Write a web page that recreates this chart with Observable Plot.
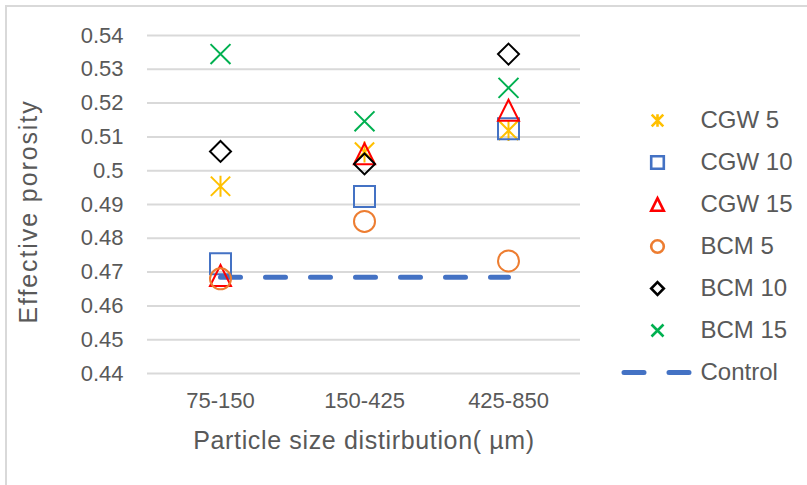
<!DOCTYPE html>
<html>
<head>
<meta charset="utf-8">
<script src="https://cdn.jsdelivr.net/npm/d3@7"></script>
<script src="https://cdn.jsdelivr.net/npm/@observablehq/plot@0.6"></script>
<style>
  html, body { margin: 0; padding: 0; background: #fff; overflow: hidden; width: 807px; height: 485px; }
  #frame { position: absolute; left: 5px; top: 5px; width: 830px; height: 520px; border: 2px solid #d9d9d9; box-sizing: border-box; }
  #chart { position: absolute; left: 0; top: 0; }
  #legend { position: absolute; left: 600px; top: 95px; }
</style>
</head>
<body>
<div id="frame"></div>
<div id="chart"></div>
<div id="legend"></div>
<script>
// ---- data ----
const categories = ["75-150", "150-425", "425-850"];
const seriesNames = ["CGW 5", "CGW 10", "CGW 15", "BCM 5", "BCM 10", "BCM 15"];
const cgw5  = [0.4954, 0.5055, 0.5119];
const cgw10 = [0.4725, 0.4924, 0.5124];
const cgw15 = [0.4690, 0.5050, 0.5179];
const bcm5  = [0.4680, 0.4850, 0.4733];
const bcm10 = [0.5057, 0.5020, 0.5345];
const bcm15 = [0.5345, 0.5146, 0.5245];
const control = [0.4685, 0.4685, 0.4685];
const yTicks = [0.44, 0.45, 0.46, 0.47, 0.48, 0.49, 0.50, 0.51, 0.52, 0.53, 0.54];
const yTickLabels = ["0.44", "0.45", "0.46", "0.47", "0.48", "0.49", "0.5", "0.51", "0.52", "0.53", "0.54"];
const xTitle = "Particle size distirbution( \u00b5m)";
const yTitle = "Effective porosity";
const controlName = "Control";

// ---- styles ----
const colors = ["#FFC000", "#4472C4", "#FF0000", "#ED7D31", "#000000", "#00B050"];
const controlColor = "#4472C4";
const textColor = "#595959";
const fontFamily = "'Liberation Sans', Arial, sans-serif";

// custom Excel-like marker shapes (r = half extent)
const mk = (fn) => ({ draw(ctx, size) { fn(ctx, Math.sqrt(size / Math.PI)); } });
const symAsterisk = mk((c, r) => { const a = r * 0.92; c.moveTo(0, -r); c.lineTo(0, r); c.moveTo(-a, -a); c.lineTo(a, a); c.moveTo(-a, a); c.lineTo(a, -a); });
const symSquare = mk((c, r) => { c.moveTo(-r, -r); c.lineTo(r, -r); c.lineTo(r, r); c.lineTo(-r, r); c.closePath(); });
const symTriangle = mk((c, r) => { c.moveTo(0, -r); c.lineTo(r, r); c.lineTo(-r, r); c.closePath(); });
const symCircle = mk((c, r) => { c.moveTo(r, 0); c.arc(0, 0, r, 0, 2 * Math.PI); c.closePath(); });
const symDiamond = mk((c, r) => { c.moveTo(0, -r); c.lineTo(r, 0); c.lineTo(0, r); c.lineTo(-r, 0); c.closePath(); });
const symX = mk((c, r) => { const a = r * 0.95; c.moveTo(-a, -a); c.lineTo(a, a); c.moveTo(-a, a); c.lineTo(a, -a); });
const symbols = [symAsterisk, symSquare, symTriangle, symCircle, symDiamond, symX];

const seriesValues = [cgw5, cgw10, cgw15, bcm5, bcm10, bcm15];
const rows = (vals) => categories.map((c, i) => ({ cat: c, v: vals[i] }));

const dotMarks = seriesValues.map((vals, s) =>
  Plot.dot(rows(vals), {
    x: "cat", y: "v", symbol: symbols[s], r: 10.5,
    stroke: colors[s], strokeWidth: 2, fill: "none", strokeLinejoin: "miter"
  })
);

const chart = Plot.plot({
  width: 807, height: 485,
  marginLeft: 147, marginRight: 227, marginTop: 35, marginBottom: 112,
  style: { fontFamily, background: "transparent", overflow: "visible" },
  x: { type: "point", domain: categories, padding: 0.5, label: null },
  y: { domain: [0.44, 0.54], label: null },
  marks: [
    Plot.gridY(yTicks, { stroke: "#d9d9d9", strokeOpacity: 1, strokeWidth: 2 }),
    Plot.axisY({ ticks: yTicks, tickFormat: (d) => yTickLabels[yTicks.indexOf(d)], tickSize: 0, tickPadding: 24, fontSize: 22, color: textColor, label: null }),
    Plot.axisX({ tickSize: 0, tickPadding: 19, fontSize: 22, color: textColor, label: null }),
    Plot.line(rows(control), { x: "cat", y: "v", stroke: controlColor, strokeWidth: 5, strokeDasharray: "20,25", strokeLinecap: "round" }),
    ...dotMarks,
    Plot.text([xTitle], { text: (d) => d, frameAnchor: "bottom", textAnchor: "middle", lineAnchor: "middle", dy: 67, fontSize: 25, fill: textColor }),
    Plot.text([yTitle], { text: (d) => d, frameAnchor: "left", textAnchor: "middle", lineAnchor: "middle", dx: -119, dy: 7, rotate: -90, fontSize: 25, fill: textColor })
  ]
});
// slight tracking on the axis titles, as in the reference
d3.select(chart).selectAll("text")
  .filter(function () { return this.textContent === yTitle; })
  .attr("letter-spacing", "1.9px");
d3.select(chart).selectAll("text")
  .filter(function () { return this.textContent === xTitle; })
  .attr("letter-spacing", "0.65px");
document.getElementById("chart").append(chart);

// ---- legend ----
const legendNames = [...seriesNames, controlName];
const legendDots = seriesNames.map((name, s) =>
  Plot.dot([name], { y: (d) => d, frameAnchor: "left", dx: 57, symbol: symbols[s], r: 6.3, stroke: colors[s], strokeWidth: 2.6, fill: "none" })
);
const legend = Plot.plot({
  width: 207, height: 300,
  marginLeft: 0, marginRight: 0, marginTop: 0, marginBottom: 0,
  style: { fontFamily, background: "transparent", overflow: "visible" },
  y: { type: "point", domain: legendNames, range: [23.5, 279], padding: 0, axis: null },
  marks: [
    ...legendDots,
    Plot.ruleY([controlName], { y: (d) => d, stroke: controlColor, strokeWidth: 5, strokeDasharray: "20,25", strokeLinecap: "round", insetLeft: 24, insetRight: 118 }),
    Plot.text(legendNames, { y: (d) => d, text: (d) => d, frameAnchor: "left", dx: 100, textAnchor: "start", fontSize: 24, fill: textColor })
  ]
});
document.getElementById("legend").append(legend);
</script>
</body>
</html>
